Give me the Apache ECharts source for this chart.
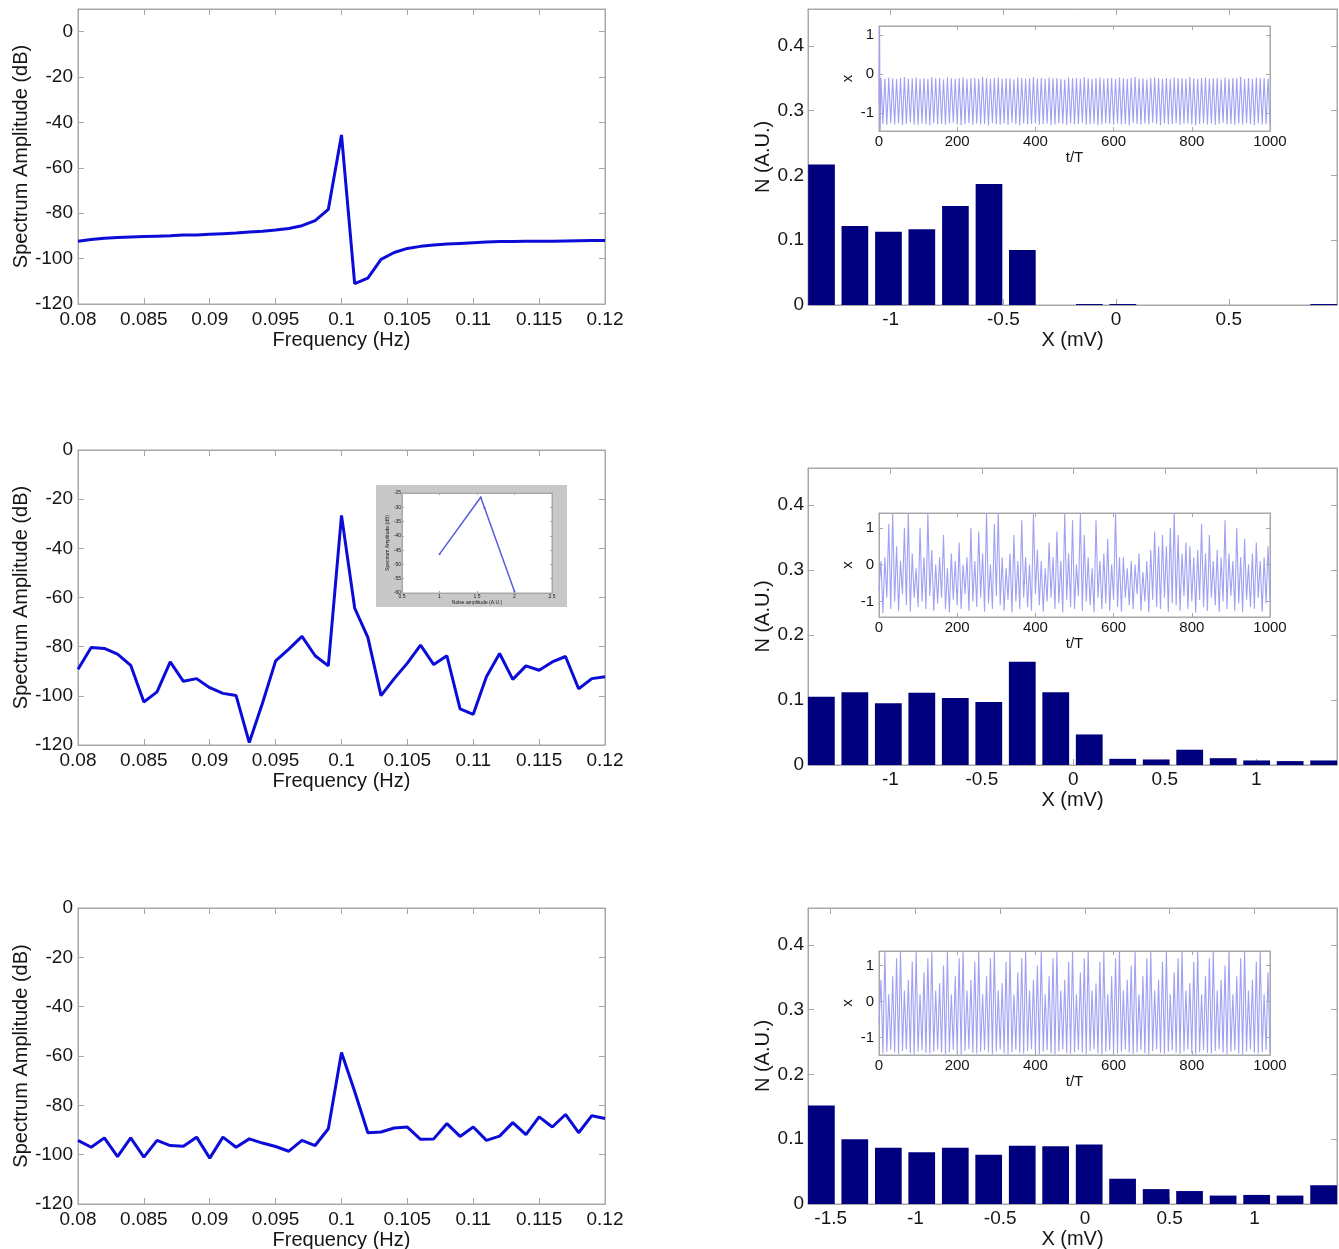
<!DOCTYPE html>
<html>
<head>
<meta charset="utf-8">
<script src="https://cdn.jsdelivr.net/npm/echarts@6/dist/echarts.min.js"></script>
<style>
html,body{margin:0;padding:0;background:#ffffff;}
#chart{width:1339px;height:1249px;}
</style>
</head>
<body>
<div id="chart"></div>
<script>
// ---------------- DATA ----------------
const frequencyHz = [0.080,0.081,0.082,0.083,0.084,0.085,0.086,0.087,0.088,0.089,
  0.090,0.091,0.092,0.093,0.094,0.095,0.096,0.097,0.098,0.099,
  0.100,0.101,0.102,0.103,0.104,0.105,0.106,0.107,0.108,0.109,
  0.110,0.111,0.112,0.113,0.114,0.115,0.116,0.117,0.118,0.119,0.120];

const spectrumTopDb = [-92.3,-91.6,-91.0,-90.7,-90.5,-90.3,-90.1,-89.9,-89.6,-89.6,
  -89.3,-89.0,-88.7,-88.3,-87.9,-87.4,-86.7,-85.5,-83.3,-78.3,
  -45.5,-111.0,-108.6,-100.3,-97.3,-95.5,-94.6,-94.0,-93.6,-93.3,
  -93.0,-92.7,-92.5,-92.5,-92.4,-92.3,-92.3,-92.2,-92.1,-92.0,-92.0];

const spectrumMidDb = [-89.2,-80.3,-80.7,-83.0,-87.6,-102.5,-98.4,-86.2,-94.1,-93.0,
  -96.7,-99.0,-99.9,-119.0,-103.0,-85.8,-81.0,-75.8,-83.7,-87.8,
  -26.6,-64.3,-76.2,-99.9,-93.0,-86.7,-79.4,-87.3,-83.7,-105.3,
  -107.5,-92.2,-82.8,-93.3,-87.8,-89.6,-86.2,-84.0,-97.1,-93.0,-92.2];

const spectrumBotDb = [-94.2,-97.0,-93.2,-100.8,-93.2,-101.0,-94.2,-96.3,-96.6,-92.9,
  -101.4,-92.9,-97.0,-93.6,-95.3,-96.7,-98.6,-94.2,-96.3,-89.5,
  -58.6,-74.4,-91.1,-90.8,-89.2,-88.8,-93.8,-93.6,-87.4,-92.6,
  -88.8,-94.2,-92.5,-87.0,-91.9,-84.7,-88.8,-83.7,-91.1,-84.2,-85.3];

// inset of middle-left panel
const noiseAmplitude = [1.0, 1.55, 1.6, 2.0];
const noisePeakDb = [-46.4, -26.5, -30.2, -59.5];

// histograms (bin centres in mV, normalised counts)
const histXTop = [-1.307,-1.159,-1.010,-0.862,-0.713,-0.564,-0.416,-0.267,-0.119,0.030,0.178,0.327,0.475,0.624,0.772,0.921];
const histNTop = [0.217,0.122,0.113,0.117,0.153,0.187,0.085,0,0.0015,0.0015,0,0,0,0,0,0.0015];
const histXMid = [-1.377,-1.194,-1.011,-0.828,-0.645,-0.462,-0.279,-0.096,0.087,0.270,0.453,0.636,0.819,1.002,1.185,1.368];
const histNMid = [0.105,0.112,0.095,0.111,0.103,0.097,0.159,0.112,0.047,0.0095,0.0085,0.0235,0.0105,0.007,0.006,0.007];
const histXBot = [-1.555,-1.358,-1.160,-0.963,-0.765,-0.568,-0.370,-0.173,0.025,0.222,0.420,0.617,0.815,1.013,1.210,1.408];
const histNBot = [0.152,0.100,0.087,0.080,0.087,0.076,0.090,0.089,0.092,0.039,0.023,0.020,0.013,0.014,0.013,0.029];

// time-series insets: initial transient [t, x] and successive maxima / minima (one per cycle)
const cycleT = 10;
const sigTopStart = [[0,-0.75],[1.5,1.2],[3,-1.45]];
const sigTopPeaks = [-0.10,-0.12,-0.09,-0.11,-0.13,-0.10,-0.08,-0.12,-0.11,-0.09,
  -0.13,-0.10,-0.12,-0.08,-0.11,-0.10,-0.14,-0.09,-0.11,-0.12,
  -0.10,-0.09,-0.13,-0.11,-0.10,-0.12,-0.08,-0.11,-0.13,-0.10,
  -0.09,-0.12,-0.10,-0.11,-0.14,-0.09,-0.10,-0.12,-0.11,-0.08,
  -0.12,-0.10,-0.13,-0.09,-0.11,-0.10,-0.12,-0.14,-0.09,-0.11,
  -0.10,-0.12,-0.08,-0.11,-0.13,-0.10,-0.09,-0.12,-0.11,-0.10,
  -0.13,-0.09,-0.11,-0.12,-0.10,-0.08,-0.12,-0.11,-0.14,-0.10,
  -0.09,-0.11,-0.12,-0.10,-0.13,-0.09,-0.11,-0.10,-0.12,-0.08,
  -0.11,-0.13,-0.10,-0.09,-0.12,-0.11,-0.10,-0.14,-0.09,-0.12,
  -0.10,-0.11,-0.08,-0.13,-0.10,-0.12,-0.09,-0.11,-0.10,-0.12];
const sigTopTroughs = [-1.28,-1.30,-1.26,-1.29,-1.27,-1.31,-1.28,-1.25,-1.29,-1.30,
  -1.27,-1.28,-1.32,-1.26,-1.29,-1.28,-1.30,-1.27,-1.25,-1.29,
  -1.31,-1.28,-1.26,-1.30,-1.27,-1.29,-1.28,-1.32,-1.26,-1.28,
  -1.29,-1.27,-1.30,-1.25,-1.28,-1.31,-1.27,-1.29,-1.28,-1.26,
  -1.30,-1.28,-1.27,-1.31,-1.29,-1.26,-1.28,-1.30,-1.27,-1.29,
  -1.28,-1.25,-1.30,-1.28,-1.27,-1.31,-1.29,-1.26,-1.28,-1.30,
  -1.27,-1.29,-1.28,-1.32,-1.26,-1.28,-1.30,-1.27,-1.29,-1.25,
  -1.28,-1.31,-1.27,-1.29,-1.28,-1.26,-1.30,-1.28,-1.27,-1.29,
  -1.31,-1.28,-1.26,-1.29,-1.27,-1.30,-1.28,-1.25,-1.29,-1.28,
  -1.30,-1.27,-1.29,-1.26,-1.28,-1.31,-1.27,-1.29,-1.28,-1.30];

const sigMidStart = [[0,-0.7]];
const sigMidPeaks = [0.1,0.2,1.1,1.38,0.5,0.1,1.0,1.4,0.3,-0.1,
  1.0,0.2,1.38,0.4,0.0,0.2,0.8,-0.1,0.3,0.1,
  0.6,0.0,0.2,1.0,0.1,0.9,0.3,1.38,0.0,1.1,
  1.4,0.2,-0.1,0.3,0.8,0.1,1.2,0.2,0.0,1.4,
  0.4,0.1,-0.1,0.6,0.2,0.9,0.1,1.4,0.3,1.2,
  0.0,1.38,0.8,0.2,-0.1,1.2,0.1,0.3,0.7,0.0,
  1.4,0.2,0.2,-0.1,0.1,0.0,0.3,-0.2,0.1,0.4,
  0.9,0.5,0.8,0.5,1.0,1.4,0.8,0.3,0.6,0.5,
  0.2,0.4,1.1,0.3,0.8,0.1,0.4,0.2,1.2,0.3,
  0.1,1.0,0.2,0.7,0.0,0.3,0.6,0.1,0.2,0.5];
const sigMidTroughs = [-1.32,-0.9,-1.2,-1.0,-1.25,-0.8,-1.1,-1.28,-0.9,-1.15,
  -1.0,-1.2,-0.85,-1.25,-1.05,-0.9,-1.2,-1.3,-0.95,-1.1,
  -1.2,-0.8,-1.25,-1.0,-1.15,-0.9,-1.28,-1.05,-1.2,-0.85,
  -1.1,-1.25,-0.95,-1.3,-1.0,-1.2,-0.9,-1.15,-1.25,-0.8,
  -1.1,-1.28,-1.0,-0.9,-1.2,-1.05,-1.3,-0.95,-1.15,-1.2,
  -0.85,-1.25,-1.0,-1.1,-1.3,-0.9,-1.2,-1.05,-1.25,-0.95,
  -1.15,-1.28,-0.9,-1.1,-1.2,-0.8,-1.25,-1.0,-1.3,-0.95,
  -1.15,-1.2,-0.9,-1.28,-1.05,-1.1,-1.25,-0.85,-1.2,-1.0,
  -1.3,-0.95,-1.15,-1.25,-0.9,-1.1,-1.28,-1.0,-1.2,-0.85,
  -1.25,-1.05,-1.3,-0.95,-1.15,-1.2,-0.9,-1.28,-1.05,-1.0];

const sigBotStart = [[0,-0.6]];
const sigBotPeaks = [0.6,1.4,0.2,0.7,1.2,1.4,0.3,0.6,1.1,1.38,0.2,0.8,
  1.2,1.4,0.3,0.5,1.0,1.4,0.2,0.7,1.2,1.38,0.3,0.6,
  1.1,1.4,0.2,0.7,1.2,1.4,0.3,0.5,1.1,1.38,0.2,0.8,
  1.2,1.4,0.3,0.6,1.0,1.4,0.2,0.7,1.2,1.38,0.3,0.6,
  1.1,1.4,0.2,0.8,1.2,1.4,0.3,0.5,1.1,1.38,0.2,0.7,
  1.2,1.4,0.3,0.6,1.0,1.4,0.2,0.7,1.2,1.38,0.3,0.6,
  1.1,1.4,0.2,0.8,1.2,1.4,0.3,0.5,1.1,1.38,0.2,0.7,
  1.2,1.4,0.3,0.6,1.0,1.4,0.2,0.7,1.2,1.38,0.3,0.6,
  1.1,1.4,0.2,0.8];
const sigBotTroughs = [-1.45,-1.40,-1.35,-1.42,-1.46,-1.38,-1.33,-1.44,-1.47,-1.40,
  -1.36,-1.43,-1.45,-1.39,-1.34,-1.42,-1.46,-1.41,-1.35,-1.44,
  -1.47,-1.38,-1.33,-1.43,-1.45,-1.40,-1.36,-1.42,-1.46,-1.39,
  -1.34,-1.44,-1.47,-1.41,-1.35,-1.43,-1.45,-1.38,-1.33,-1.42,
  -1.46,-1.40,-1.36,-1.44,-1.47,-1.39,-1.34,-1.43,-1.45,-1.41,
  -1.35,-1.42,-1.46,-1.38,-1.33,-1.44,-1.47,-1.40,-1.36,-1.43,
  -1.45,-1.39,-1.34,-1.42,-1.46,-1.41,-1.35,-1.44,-1.47,-1.38,
  -1.33,-1.43,-1.45,-1.40,-1.36,-1.42,-1.46,-1.39,-1.34,-1.44,
  -1.47,-1.41,-1.35,-1.43,-1.45,-1.38,-1.33,-1.42,-1.46,-1.40,
  -1.36,-1.44,-1.47,-1.39,-1.34,-1.43,-1.45,-1.41,-1.35,-1.42];

// ---------------- STYLE / LAYOUT ----------------
const FONT = "'Liberation Sans', Arial, Helvetica, sans-serif";
const FRAME = '#a8a8a8';
const INK = '#151515';
const LINE_BLUE = '#0c0cd8';
const BAR_BLUE = '#00007f';
const SIG_BLUE = '#a0a0f4';

function fmtStep(step) {
  return function (v) {
    const r = Math.round(v / step);
    if (Math.abs(v - r * step) > step * 1e-3) return '';
    return String(+(r * step).toFixed(4));
  };
}

const grids = [], xAxes = [], yAxes = [], series = [];

function panel(c) {
  const gi = grids.length;
  grids.push({
    left: c.box[0], top: c.box[1], width: c.box[2] - c.box[0], height: c.box[3] - c.box[1],
    show: true, borderColor: FRAME, borderWidth: 1,
    backgroundColor: c.bg || 'transparent', containLabel: false, outerBoundsMode: 'none', z: c.z
  });
  const tick = { show: true, inside: true, length: c.tickLen, lineStyle: { color: FRAME, width: 1 } };
  const aline = { show: true, onZero: false, lineStyle: { color: FRAME, width: 1 } };
  const xb = { type: 'value', gridIndex: gi, min: c.x[0], max: c.x[1], splitLine: { show: false },
    axisLine: aline, axisTick: tick, z: c.z };
  if (c.xInterval) xb.interval = c.xInterval; else xb.splitNumber = c.xSplit;
  const yb = { type: 'value', gridIndex: gi, min: c.y[0], max: c.y[1], splitLine: { show: false },
    axisLine: aline, axisTick: tick, z: c.z };
  if (c.yInterval) yb.interval = c.yInterval; else yb.splitNumber = c.ySplit;

  const xi = xAxes.length;
  xAxes.push(Object.assign({}, xb, {
    position: 'bottom',
    axisLabel: { show: true, color: INK, fontSize: c.fs, fontFamily: FONT, margin: c.xMargin, formatter: fmtStep(c.xStep) },
    name: c.xName, nameLocation: 'middle', nameGap: c.xNameGap,
    nameTextStyle: { color: INK, fontSize: c.nfs, fontFamily: FONT }
  }));
  if (c.mirror) xAxes.push(Object.assign({}, xb, { position: 'top', axisLabel: { show: false } }));

  const yi = yAxes.length;
  yAxes.push(Object.assign({}, yb, {
    position: 'left',
    axisLabel: { show: true, color: INK, fontSize: c.fs, fontFamily: FONT, margin: c.yMargin, formatter: fmtStep(c.yStep) },
    name: c.yName, nameLocation: 'middle', nameGap: c.yNameGap, nameRotate: 90,
    nameTextStyle: { color: INK, fontSize: c.nfs, fontFamily: FONT }
  }));
  if (c.mirror) yAxes.push(Object.assign({}, yb, { position: 'right', axisLabel: { show: false } }));
  return { xi: xi, yi: yi };
}

function spectrumPanel(box, yMax, values) {
  const a = panel({ box: box, z: 1, x: [0.08, 0.12], xInterval: 0.005, xStep: 0.005,
    y: [-120, yMax], yInterval: 20, yStep: 20, fs: 19, nfs: 20, tickLen: 6,
    xMargin: 6, yMargin: 5, xName: 'Frequency (Hz)', xNameGap: 26,
    yName: 'Spectrum Amplitude (dB)', yNameGap: 46, mirror: true });
  series.push({ type: 'line', xAxisIndex: a.xi, yAxisIndex: a.yi, z: 3,
    data: frequencyHz.map((f, i) => [f, values[i]]),
    showSymbol: false, lineStyle: { color: LINE_BLUE, width: 3 }, silent: true });
}

function histPanel(box, xr, centers, counts) {
  const a = panel({ box: box, z: 1, x: xr, xSplit: 5, xStep: 0.5,
    y: [0, 0.457], yInterval: 0.1, yStep: 0.1, fs: 19, nfs: 20, tickLen: 6,
    xMargin: 5, yMargin: 4, xName: 'X (mV)', xNameGap: 25,
    yName: 'N (A.U.)', yNameGap: 34, mirror: true });
  series.push({ type: 'bar', xAxisIndex: a.xi, yAxisIndex: a.yi, z: 3, barWidth: '80%',
    data: centers.map((x, i) => [x, counts[i]]),
    itemStyle: { color: BAR_BLUE }, silent: true });
}

function buildSignal(start, peaks, troughs) {
  const pts = start.map(p => [p[0], p[1]]);
  for (let k = 0; k < peaks.length; k++) {
    pts.push([cycleT * k + cycleT / 2, peaks[k]]);
    pts.push([cycleT * (k + 1), troughs[k]]);
  }
  return pts;
}

function signalInset(box, yr, start, peaks, troughs) {
  const a = panel({ box: box, z: 6, bg: '#ffffff', x: [0, 1000], xInterval: 200, xStep: 200,
    y: yr, ySplit: 3, yStep: 1, fs: 15, nfs: 15, tickLen: 4,
    xMargin: 3, yMargin: 5, xName: 't/T', xNameGap: 18,
    yName: 'x', yNameGap: 24, mirror: true });
  series.push({ type: 'line', xAxisIndex: a.xi, yAxisIndex: a.yi, z: 7,
    data: buildSignal(start, peaks, troughs), showSymbol: false, sampling: null,
    lineStyle: { color: SIG_BLUE, width: 1.1 }, silent: true });
}

// left column: spectra
spectrumPanel([78, 9, 605, 304], 10, spectrumTopDb);
spectrumPanel([78, 450, 605, 745], 0, spectrumMidDb);
spectrumPanel([78, 908, 605, 1204], 0, spectrumBotDb);

// right column: histograms
histPanel([808, 9, 1337, 305], [-1.367, 0.980], histXTop, histNTop);
histPanel([808, 468, 1337, 765], [-1.450, 1.441], histXMid, histNMid);
histPanel([808, 908, 1337, 1204], [-1.634, 1.487], histXBot, histNBot);

// time-series insets
signalInset([879, 26, 1270, 131], [-1.46, 1.23], sigTopStart, sigTopPeaks, sigTopTroughs);
signalInset([879, 513, 1270, 617], [-1.42, 1.4], sigMidStart, sigMidPeaks, sigMidTroughs);
signalInset([879, 951, 1270, 1055], [-1.49, 1.4], sigBotStart, sigBotPeaks, sigBotTroughs);

// noise-amplitude inset on middle-left panel
(function () {
  const a = panel({ box: [402, 493, 552, 593], z: 6, bg: '#ffffff', x: [0.5, 2.5], xInterval: 0.5, xStep: 0.5,
    y: [-60, -25], yInterval: 5, yStep: 5, fs: 5, nfs: 5, tickLen: 2,
    xMargin: 1, yMargin: 1, xName: 'Noise amplitude (A.U.)', xNameGap: 7,
    yName: 'Spectrum Amplitude (dB)', yNameGap: 10, mirror: true });
  series.push({ type: 'line', xAxisIndex: a.xi, yAxisIndex: a.yi, z: 7,
    data: noiseAmplitude.map((n, i) => [n, noisePeakDb[i]]),
    showSymbol: true, symbol: 'circle', symbolSize: 2,
    itemStyle: { color: '#5a5ae0' },
    lineStyle: { color: '#5a5ae0', width: 1.5 }, silent: true });
})();

const chart = echarts.init(document.getElementById('chart'), null, { renderer: 'canvas' });
chart.setOption({
  backgroundColor: '#ffffff',
  animation: false,
  textStyle: { fontFamily: FONT },
  grid: grids,
  xAxis: xAxes,
  yAxis: yAxes,
  series: series,
  graphic: [{ type: 'rect', z: 5, silent: true,
    shape: { x: 376, y: 485, width: 191, height: 122 },
    style: { fill: '#c8c8c8' } }]
});
</script>
</body>
</html>
